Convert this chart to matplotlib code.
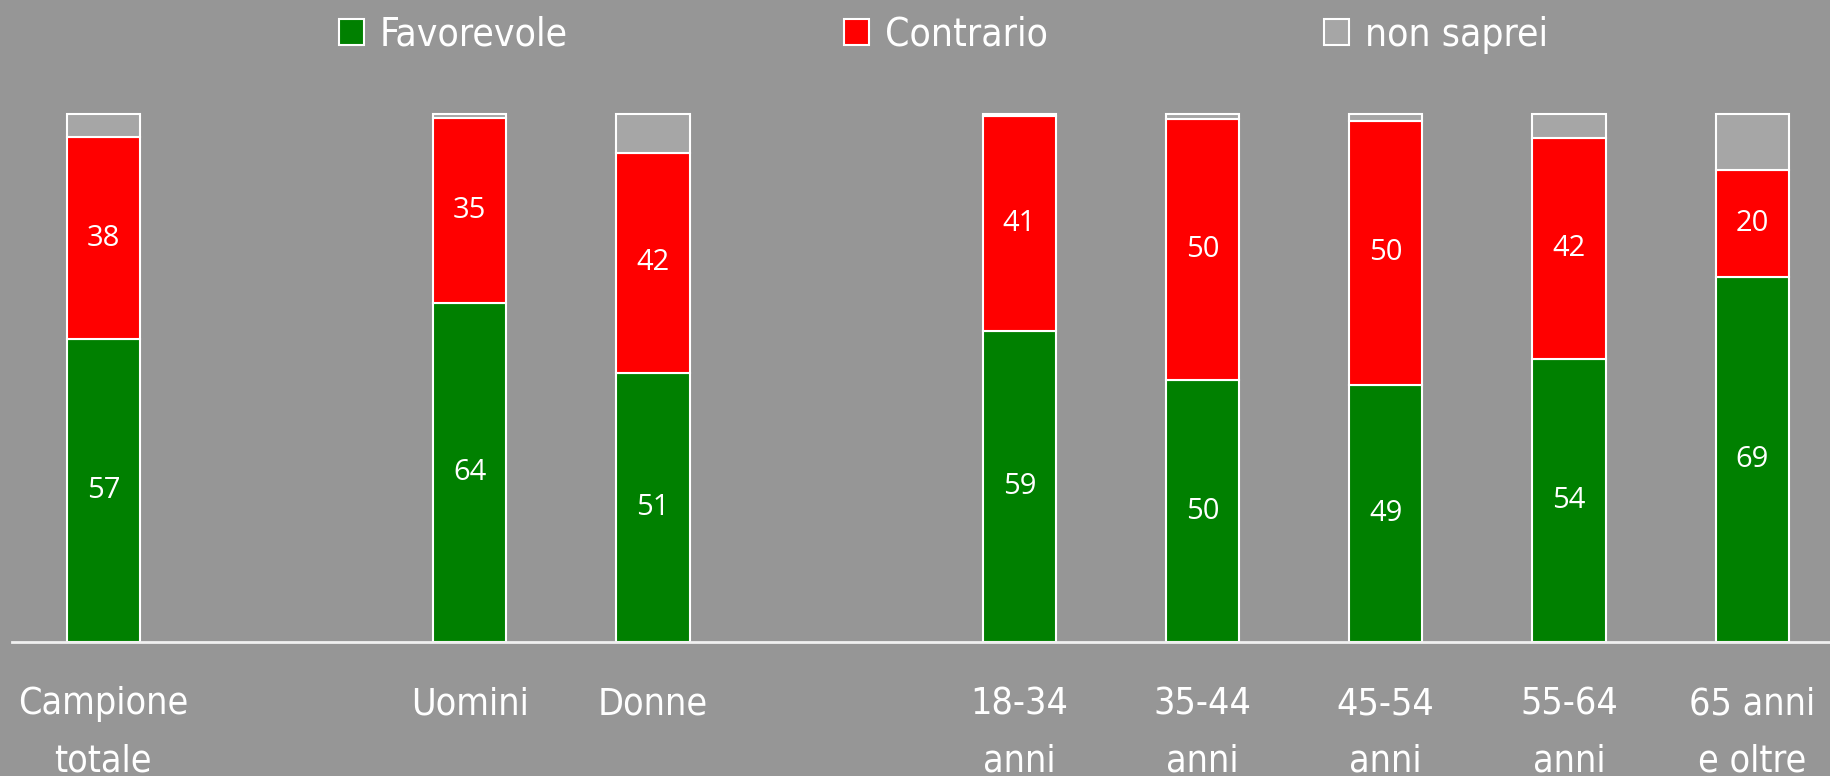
import numpy as np
import matplotlib.pyplot as plt

# Data (percent)
categories = ["Campione\ntotale", "Uomini", "Donne", "18-34\nanni", "35-44\nanni",
              "45-54\nanni", "55-64\nanni", "65 anni\ne oltre"]
positions = [0, 2, 3, 5, 6, 7, 8, 9]
favorevole = [57.3, 64.2, 50.9, 58.9, 49.6, 48.7, 53.6, 69.1]
contrario = [38.3, 35.0, 41.8, 40.7, 49.5, 50.0, 41.9, 20.2]
non_saprei = [4.4, 0.8, 7.3, 0.4, 0.9, 1.3, 4.5, 10.7]
series_names = ["Favorevole", "Contrario", "non saprei"]
colors = ["#008000", "#ff0000", "#a6a6a6"]

bg = "#969696"

fig = plt.figure(figsize=(18.31, 7.76), dpi=100, facecolor=bg)
ax = fig.add_axes([0.0064, 0.1727, 0.9936, 0.6804])
ax.set_facecolor(bg)

x = np.array(positions)
bottom = np.zeros(len(x))
for vals, name, col in zip([favorevole, contrario, non_saprei], series_names, colors):
    vals = np.array(vals)
    ax.bar(x, vals, 0.40, bottom=bottom, color=col, edgecolor="white",
           linewidth=1.5, label=name, clip_on=False)
    if name != "non saprei":
        for xi, b, v in zip(x, bottom, vals):
            ax.text(xi, b + v / 2, f"{v:.0f}", ha="center", va="center",
                    color="white", fontsize=21, family="Open Sans")
    bottom += vals

ax.set_xlim(-0.5, 9.43)
ax.set_ylim(0, 100)
ax.set_yticks([])
ax.set_xticks(x)
ax.set_xticklabels(categories, family="DejaVu Sans", fontstretch="condensed",
                   fontsize=27, color="white", linespacing=1.75, va="top")
ax.tick_params(axis="x", length=0, pad=32)
for s in ["top", "left", "right"]:
    ax.spines[s].set_visible(False)
ax.spines["bottom"].set_color("#f0f0f0")
ax.spines["bottom"].set_linewidth(2)

ax.legend(ncol=3, loc="center", bbox_to_anchor=(0.512, 1.15), frameon=False,
          prop={"family": "DejaVu Sans", "stretch": "condensed", "size": 28},
          labelcolor="white", handlelength=0.65, handleheight=0.65,
          handletextpad=0.4, columnspacing=7.1)

fig.savefig("out.png", dpi=100, facecolor=bg)
